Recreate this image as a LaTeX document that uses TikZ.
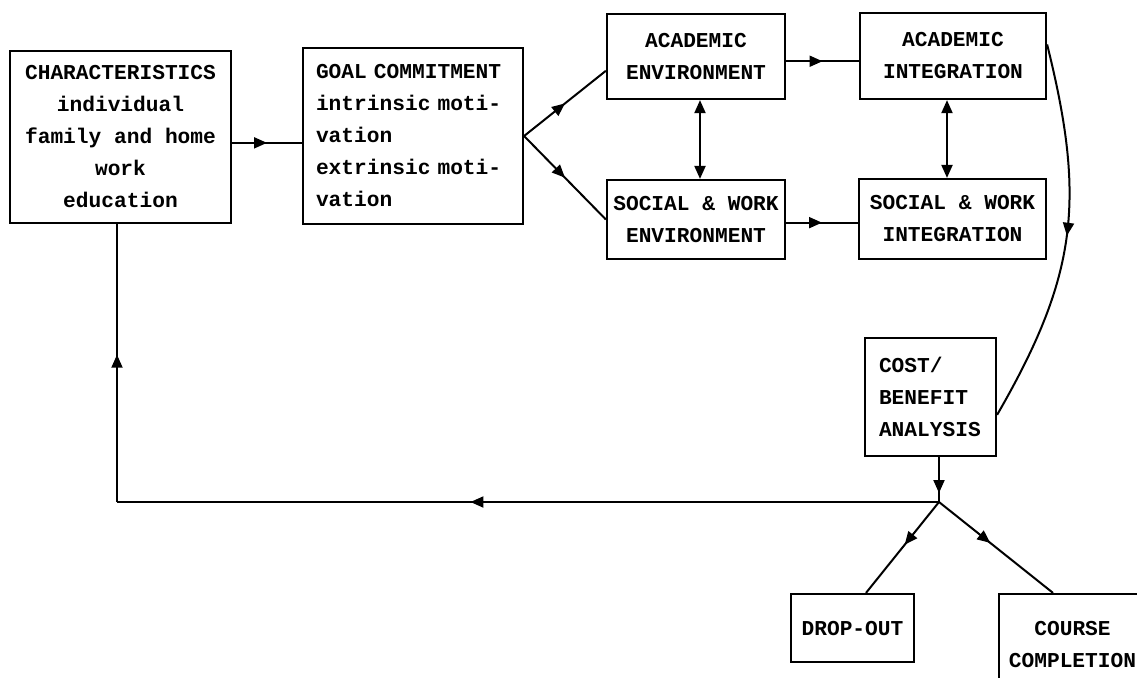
\documentclass[tikz,border=0pt]{standalone}
\usepackage{fontspec}
\setmonofont{Liberation Mono}
\usetikzlibrary{arrows.meta,positioning,calc,decorations.markings}

\tikzset{
  box/.style={draw,line width=1.1pt,rectangle,inner sep=3pt,
    font=\ttfamily\bfseries\fontsize{10.6}{16}\selectfont},
  conn/.style={line width=1pt},
  flowarrow/.style={postaction={decorate},
    decoration={markings,mark=at position #1 with {\arrow{>}}}},
  flowarrow/.default=0.5
}

\begin{document}
\begin{tikzpicture}[x=0.5pt,y=-0.5pt,>={Triangle[length=6.5pt,width=5.5pt]}]
\useasboundingbox (0,0) rectangle (1137,677);
\clip (0,0) rectangle (1137,677);

\node[box,align=center,minimum width=110.5pt,minimum height=86pt] (char) at (120.5,137)
  {CHARACTERISTICS\\individual\\family and home\\work\\education};
\node[box,align=left,text width=97pt,inner xsep=6.5pt,minimum height=88pt] (goal) at (413,136)
  {GOAL COMMITMENT\\intrinsic moti-\\vation\\extrinsic moti-\\vation};
\node[box,align=center,minimum width=89pt,minimum height=42.5pt] (accenv) at (696,56.5)
  {ACADEMIC\\ENVIRONMENT};
\node[box,align=center,minimum width=89pt,minimum height=39.5pt] (socenv) at (696,219.5)
  {SOCIAL \& WORK\\ENVIRONMENT};
\node[box,align=center,minimum width=93pt,minimum height=43pt] (acint) at (953,56)
  {ACADEMIC\\INTEGRATION};
\node[box,align=center,minimum width=93.5pt,minimum height=40pt] (socint) at (952.5,219)
  {SOCIAL \& WORK\\INTEGRATION};
\node[box,align=left,text width=51.5pt,inner xsep=7pt,minimum height=59pt] (cost) at (930.5,397)
  {COST/\\BENEFIT\\ANALYSIS};
\node[box,align=center,minimum width=61.5pt,minimum height=34pt] (drop) at (852.5,628)
  {DROP-OUT};
\node[box,align=center,minimum width=73.5pt,minimum height=50pt] (course) at (1072.5,644)
  {COURSE\\COMPLETION};

\coordinate (junc) at (939,502);
\coordinate (corner) at (117,502);

\draw[conn,flowarrow] (char.-3) -- (char.-3 -| goal.west);
\draw[conn,flowarrow] (goal.east) -- (accenv.189);
\draw[conn,flowarrow] (goal.east) -- (socenv.west);
\draw[conn,<->] ($(accenv.south)+(4,0)$) -- ($(socenv.north)+(4,0)$);
\draw[conn,flowarrow] (accenv.-3) -- (accenv.-3 -| acint.west);
\draw[conn,flowarrow] (socenv.-2) -- (socenv.-2 -| socint.west);
\draw[conn,<->] ($(acint.south)+(-6,0)$) -- ($(socint.north)+(-5.5,0)$);
\draw[conn,flowarrow=0.52] ($(socint.south)+(-5.5,0)$) -- ($(socint.south)+(-5.5,0)$ |- cost.north);
\draw[conn,flowarrow] (acint.7) to[out=-76,in=60,looseness=1.1] (cost.345);
\draw[conn,flowarrow=0.8] (cost.south -| junc) -- (junc);
\draw[conn,flowarrow=0.57] (junc) -- (corner);
\draw[conn,flowarrow=0.53] (corner) -- (char.south -| corner);
\draw[conn,flowarrow=0.47] (junc) -- ($(drop.north)+(13.5,0)$);
\draw[conn,flowarrow=0.45] (junc) -- ($(course.north)+(-19.5,0)$);
\end{tikzpicture}
\end{document}
